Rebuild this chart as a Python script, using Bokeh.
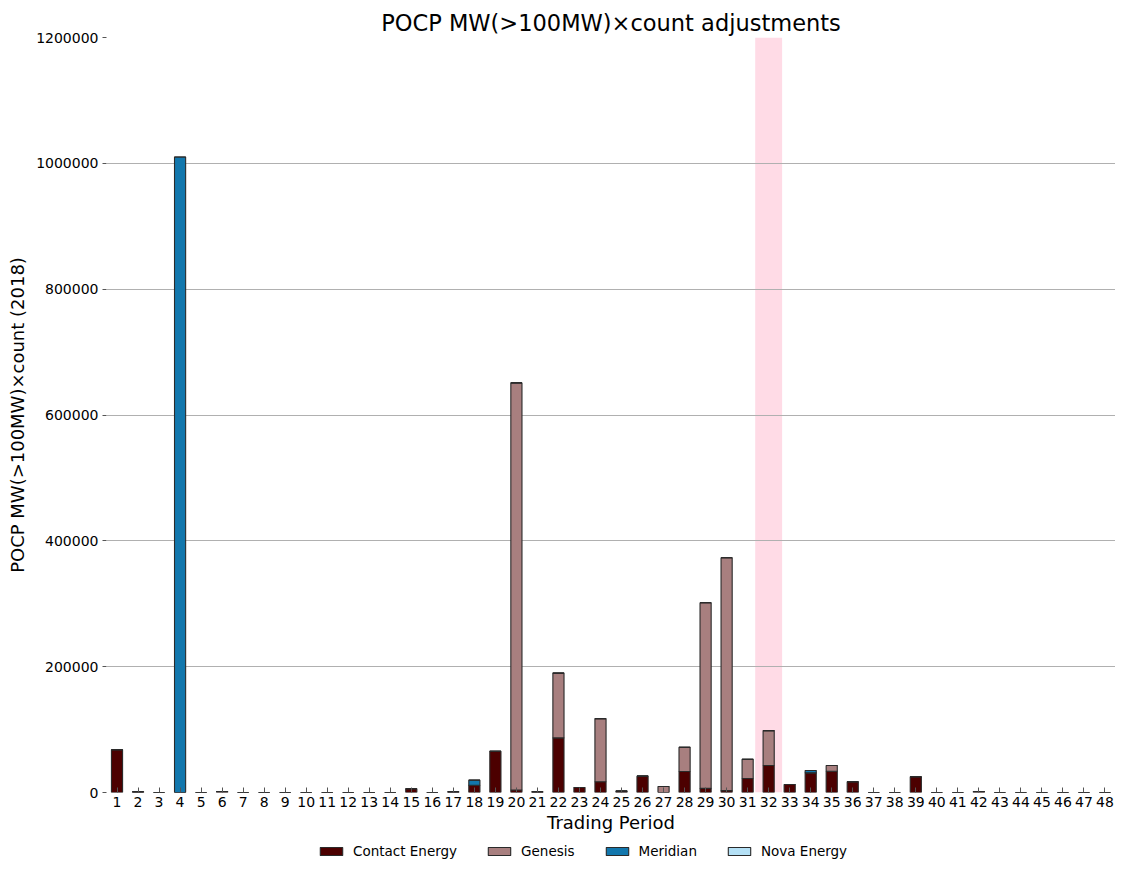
from bokeh.plotting import figure
from bokeh.layouts import column
from bokeh.models import (ColumnDataSource, FixedTicker, NumeralTickFormatter,
                          BoxAnnotation, Legend, Range1d)
from bokeh.embed import file_html
from bokeh.resources import INLINE

periods = list(range(1, 49))
contact = [68000, 1000, 0, 0, 0, 1500, 0, 0, 0, 0, 0, 0, 0, 0, 6000, 0,
           1000, 11600, 65500, 4000, 1000, 86800, 8000, 17000, 2500, 26000, 0, 33300,
           6500, 3000, 22200, 42800, 12700, 31200, 33800, 17000, 0, 0, 25000, 0,
           0, 1500, 0, 0, 0, 0, 0, 0]
genesis = [0] * 48
for tp, v in {20: 647000, 22: 103000, 24: 100400, 27: 9500, 28: 38700,
              29: 295000, 30: 370000, 31: 30600, 32: 55600, 35: 9000}.items():
    genesis[tp - 1] = v
meridian = [0] * 48
for tp, v in {4: 1010000, 18: 8000, 34: 3800}.items():
    meridian[tp - 1] = v
nova = [0] * 48

series = ["Contact Energy", "Genesis", "Meridian", "Nova Energy"]
colors = ["#4c0000", "#a87f7f", "#1277ad", "#b4e0f5"]
highlight_left, highlight_right = 31.36, 32.64
y_ticks = [0, 200000, 400000, 600000, 800000, 1000000, 1200000]

source = ColumnDataSource(dict(x=periods, **{
    "Contact Energy": contact, "Genesis": genesis,
    "Meridian": meridian, "Nova Energy": nova}))

FONT = "DejaVu Sans"
EDGE = "#2a2a2a"
p = figure(frame_width=1009, frame_height=755, output_backend="svg", toolbar_location=None,
           x_range=Range1d(0.5, 48.5), y_range=Range1d(0, 1200000),
           title="POCP MW(>100MW)×count adjustments",
           min_border_left=0, min_border_right=0, min_border_top=29, min_border_bottom=44)
p.margin = (6, 0, 0, 4)

p.title.align = "center"
p.title.text_font = FONT
p.title.text_font_size = "22.5px"
p.title.text_font_style = "normal"
p.title.text_color = "#000000"
p.title.standoff = 3

band = BoxAnnotation(left=highlight_left, right=highlight_right,
                     fill_color="#ffdbe6", fill_alpha=1.0, line_alpha=0, level="image")
p.add_layout(band)

renderers = p.vbar_stack(series, x="x", width=0.53, source=source, color=colors,
                         line_color=EDGE, line_width=1.1)
for r, c in zip(renderers, colors):
    r.glyph.fill_color = c
    r.glyph.line_color = EDGE

p.xaxis.ticker = FixedTicker(ticks=periods)
p.yaxis.ticker = FixedTicker(ticks=y_ticks)
p.yaxis.formatter = NumeralTickFormatter(format="0")

for ax in (p.xaxis[0], p.yaxis[0]):
    ax.axis_line_color = None
    ax.major_label_text_font = FONT
    ax.major_label_text_font_size = "14px"
    ax.major_label_text_color = "#000000"
    ax.axis_label_text_font = FONT
    ax.axis_label_text_font_size = "18px"
    ax.axis_label_text_font_style = "normal"
    ax.axis_label_text_color = "#000000"
    ax.minor_tick_line_color = None
    ax.major_tick_line_color = "#555555"

p.xaxis.axis_label = "Trading Period"
p.yaxis.axis_label = "POCP MW(>100MW)×count (2018)"
p.xaxis.major_tick_in = 5
p.xaxis.major_tick_out = 0
p.xaxis.major_label_standoff = 4
p.xaxis.axis_label_standoff = 2
p.yaxis.major_tick_in = 0
p.yaxis.major_tick_out = 4
p.yaxis.major_label_standoff = 4

p.xgrid.grid_line_color = None
p.ygrid.grid_line_color = "#b0b0b0"
p.ygrid.grid_line_width = 1
p.outline_line_color = None

# legend strip below the chart (proxy renderers sit outside the strip's visible range)
lf = figure(width=1109, height=26, output_backend="svg", toolbar_location=None,
            x_axis_location=None, y_axis_location=None, min_border=0,
            x_range=Range1d(0, 1), y_range=Range1d(0, 1))
lf.outline_line_color = None
lf.grid.grid_line_color = None
proxy = ColumnDataSource(dict(x=[-10], top=[-10]))
dummies = [lf.vbar(x="x", top="top", bottom=-10, width=0.5, source=proxy, fill_color=c,
                   line_color=EDGE, line_width=1.1) for c in colors]
legend = Legend(items=[(s, [r]) for s, r in zip(series, dummies)],
                orientation="horizontal", location=(212, 0),
                label_text_font=FONT, label_text_font_size="13.5px",
                label_text_color="#000000", background_fill_alpha=0,
                border_line_alpha=0, glyph_width=28, glyph_height=10,
                label_standoff=8, spacing=28, padding=3, margin=0)
lf.add_layout(legend)

layout = column(p, lf, spacing=0)
open("out.html", "w").write(file_html(layout, INLINE))
